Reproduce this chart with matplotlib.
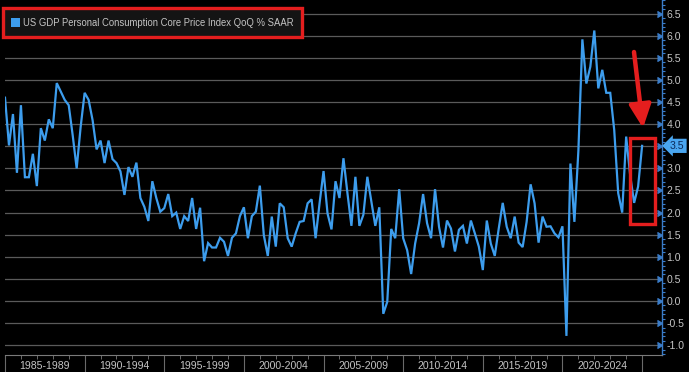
import matplotlib
matplotlib.use("Agg")
import matplotlib.pyplot as plt
import matplotlib.markers as mmarkers
import matplotlib.transforms as mtransforms
from matplotlib.patches import Rectangle
from matplotlib.ticker import MultipleLocator, FixedLocator

# ---------------- data ----------------
start_year = 1985
start_quarter = 1
values = [
    4.60, 3.52, 4.23, 2.90, 4.43, 2.80, 2.80, 3.33, 2.60, 3.91,
    3.63, 4.11, 3.91, 4.93, 4.74, 4.55, 4.43, 3.75, 3.00, 3.94,
    4.71, 4.55, 4.09, 3.43, 3.63, 3.12, 3.63, 3.21, 3.12, 2.93,
    2.40, 3.03, 2.81, 3.13, 2.33, 2.13, 1.81, 2.71, 2.33, 2.02,
    2.10, 2.42, 1.92, 2.00, 1.63, 1.92, 1.81, 2.33, 1.63, 2.11,
    0.90, 1.31, 1.21, 1.21, 1.43, 1.34, 1.02, 1.43, 1.53, 1.92,
    2.12, 1.42, 1.92, 2.02, 2.61, 1.49, 1.02, 1.91, 1.23, 2.21,
    2.12, 1.42, 1.23, 1.53, 1.79, 1.81, 2.21, 2.30, 1.42, 2.21,
    2.94, 1.98, 1.62, 2.71, 2.33, 3.23, 2.44, 1.70, 2.81, 1.70,
    1.95, 2.81, 2.25, 1.70, 2.12, -0.29, -0.02, 1.63, 1.42, 2.53,
    1.42, 1.15, 0.61, 1.30, 1.76, 2.42, 1.76, 1.42, 2.53, 1.68,
    1.21, 1.82, 1.64, 1.12, 1.61, 1.70, 1.30, 1.82, 1.53, 1.23,
    0.70, 1.82, 1.30, 1.02, 1.64, 2.22, 1.68, 1.42, 1.91, 1.32,
    1.22, 1.79, 2.64, 2.21, 1.32, 1.91, 1.68, 1.69, 1.53, 1.44,
    1.69, -0.79, 3.11, 1.79, 3.40, 5.92, 4.92, 5.30, 6.12, 4.81,
    5.23, 4.71, 4.71, 3.87, 2.44, 2.00, 3.72, 2.85, 2.22, 2.59,
    3.51,
]
series_label = "US GDP Personal Consumption Core Price Index QoQ % SAAR"
period_starts = [1985, 1990, 1995, 2000, 2005, 2010, 2015, 2020]
period_labels = ["1985-1989", "1990-1994", "1995-1999", "2000-2004",
                 "2005-2009", "2010-2014", "2015-2019", "2020-2024"]
y_tick_values = [-1.0, -0.5, 0.0, 0.5, 1.0, 1.5, 2.0, 2.5, 3.0,
                 3.5, 4.0, 4.5, 5.0, 5.5, 6.0, 6.5]

times = [start_year + (start_quarter - 1 + k) / 4.0 for k in range(len(values))]
last_label = f"{values[-1]:.1f}"

# ---------------- style ----------------
W, H = 689, 372
BG = "black"
LINE = "#3d9ded"
TXT = "#c4c4c4"
GRID = "#5a5a5a"
AXBLUE = "#3a7cc8"
RED = "#e41e1e"
FONT = ["Liberation Sans", "DejaVu Sans"]
plt.rcParams["font.family"] = FONT

fig = plt.figure(figsize=(W / 100, H / 100), dpi=100, facecolor=BG)
ax = fig.add_axes([5 / W, (H - 355) / H, (662 - 5) / W, 355 / H])
ax.set_facecolor(BG)

ax.plot(times, values, color=LINE, lw=1.6, solid_joinstyle="miter", zorder=3)

ax.set_xlim(1985.19, 2026.25)
ax.set_ylim(-1.222, 6.81)

# grid
ax.yaxis.set_major_locator(FixedLocator(y_tick_values))
ax.yaxis.set_minor_locator(MultipleLocator(0.1))
ax.grid(axis="y", which="major", color=GRID, lw=0.9)
ax.set_axisbelow(True)

# right axis
ax.yaxis.tick_right()
for s in ["left", "top"]:
    ax.spines[s].set_visible(False)
ax.spines["right"].set_color(AXBLUE)
ax.spines["right"].set_linewidth(1.0)
ax.spines["bottom"].set_color("#7a7a7a")
ax.spines["bottom"].set_linewidth(0.8)


def ytick_fmt(v, pos):
    s = f"{v:.1f}"
    return "" if s == last_label else s


ax.yaxis.set_major_formatter(plt.FuncFormatter(ytick_fmt))
ax.tick_params(axis="y", which="major", right=True, length=2, width=1,
               color=AXBLUE, labelcolor=TXT, labelsize=7.6, pad=1.2)
ax.tick_params(axis="y", which="minor", right=True, length=2.5, width=0.8,
               color=AXBLUE)
for t in ax.yaxis.get_major_ticks():
    t.tick2line.set_marker(mmarkers.CARETRIGHT)
    t.tick2line.set_markersize(4.5)
    t.tick2line.set_markerfacecolor(AXBLUE)
    t.tick2line.set_markeredgecolor(AXBLUE)

# bottom axis: 5-year separators, yearly minor ticks, period labels
ax.set_xticks([p for p in period_starts] + [2025])
ax.set_xticks(list(range(1986, 2026)), minor=True)
ax.tick_params(axis="x", which="major", length=17, width=0.8, color="#6a6a6a",
               labelbottom=False, direction="out")
ax.tick_params(axis="x", which="minor", length=3, width=0.7, color="#6a6a6a",
               direction="out")
btrans = mtransforms.blended_transform_factory(ax.transData, ax.transAxes)
for p, lab in zip(period_starts, period_labels):
    ax.text(p + 2.5, -0.032, lab, transform=btrans, ha="center", va="center",
            color=TXT, fontsize=7.6, clip_on=False)

# last value tag
rtrans = mtransforms.blended_transform_factory(ax.transAxes, ax.transData)
ax.text(1.012, values[-1], last_label, transform=rtrans, ha="left",
        va="center", color="#0b2a5a", fontsize=7.6, zorder=10, clip_on=False,
        bbox=dict(boxstyle="larrow,pad=0.2", fc="#4aa6f0", ec="none"))

# ---------------- annotations (pixel coords) ----------------
def fx(x):
    return x / W

def fy(y):
    return 1 - y / H

# legend box
fig.add_artist(Rectangle((fx(3), fy(37)), (302 - 3) / W, (37 - 8) / H,
                         transform=fig.transFigure, fc="#141414", ec=RED,
                         lw=2.4, zorder=20))
fig.add_artist(Rectangle((fx(11), fy(27)), 9 / W, 9 / H,
                         transform=fig.transFigure, fc=LINE, ec="none",
                         zorder=21))
fig.text(fx(23), fy(22.5), series_label, color=TXT, fontsize=6.85,
         ha="left", va="center", zorder=22)

# red box around latest values
fig.add_artist(Rectangle((fx(630), fy(224)), 25 / W, (224 - 138) / H,
                         transform=fig.transFigure, fc="none", ec=RED,
                         lw=2.4, zorder=20))
# red arrow
ax.annotate("", xy=(643, H - 128), xytext=(634, H - 52),
            xycoords="figure pixels", textcoords="figure pixels",
            arrowprops=dict(arrowstyle="-|>,head_width=0.33,head_length=0.7",
                            mutation_scale=20, color=RED, lw=3.2,
                            shrinkA=0, shrinkB=0),
            zorder=20, annotation_clip=False)

fig.savefig("out.png", dpi=100, facecolor=BG)
